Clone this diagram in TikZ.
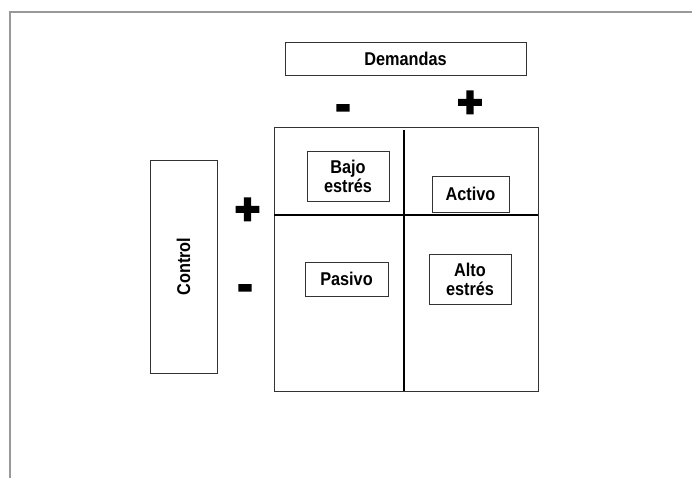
\documentclass[tikz,border=0pt]{standalone}
\usepackage{fontspec}
\setmainfont{Liberation Sans}[FakeStretch=0.88]
\newfontfamily\signfont{Liberation Sans}[FakeBold=6]
\begin{document}
\begin{tikzpicture}[x=1pt,y=-1pt,%
% common options for the labelled boxes:
block/.style = {draw=black!80, line width=0.8pt, align=center, inner sep=0,
            font=\fontsize{18.5}{19}\selectfont\bfseries},
% common options for the signs:
sign/.style = {inner sep=0, font=\fontsize{42}{42}\signfont\bfseries}]
\useasboundingbox (0,0) rectangle (692,478);
\draw[black!40, line width=1.2pt] (10,478) -- (10,12) -- (692,12);
\node[block,minimum width=241pt,minimum height=33pt] (D0) at (405.5,58.5) {Demandas};
\node[block,minimum width=67pt,minimum height=213pt] (C0) at (183.5,266.5) {\rotatebox{90}{Control}};
\node[sign] (D1) at (343,112) {-};
\node[sign] (D2) at (470,104) {+};
\node[sign] (C1) at (247.5,211) {+};
\node[sign] (C2) at (245,292) {-};
\node[block,minimum width=264pt,minimum height=264pt] (G) at (406,259) {};
\coordinate (Gt) at (404,130);
\coordinate (Gb) at (404,391);
\coordinate (Gl) at (274,215);
\coordinate (Gr) at (538,215);
\draw[line width=1.3pt] (Gt) -- (Gb);
\draw[line width=1.3pt] (Gl) -- (Gr);
\node[block,minimum width=82pt,minimum height=50pt] (Q1) at (348,176) {Bajo\\estrés};
\node[block,minimum width=77pt,minimum height=36pt] (Q2) at (470.5,194) {Activo};
\node[block,minimum width=83pt,minimum height=34pt] (Q3) at (346.5,279) {Pasivo};
\node[block,minimum width=82pt,minimum height=50pt] (Q4) at (470,279) {Alto\\estrés};
\end{tikzpicture}
\end{document}
